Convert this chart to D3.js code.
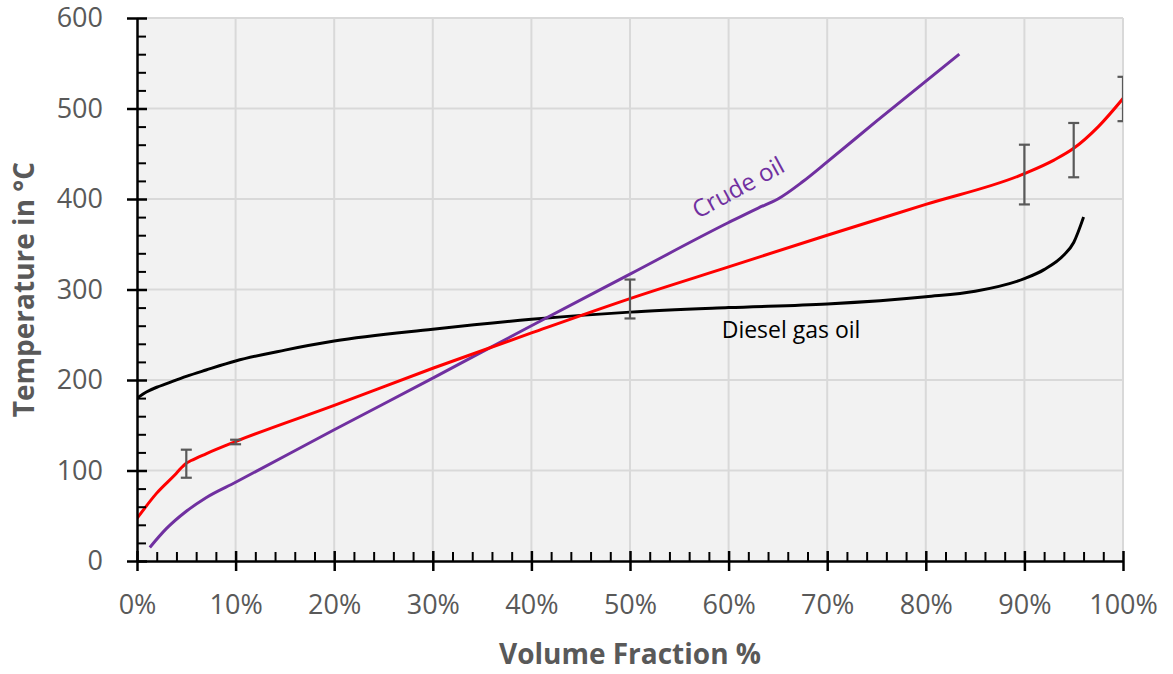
<!DOCTYPE html>
<html>
<head>
<meta charset="utf-8">
<script src="https://cdn.jsdelivr.net/npm/d3@7"></script>
<style>
  body { margin: 0; background: #ffffff; }
  text { font-family: "Open Sans", "Liberation Sans", sans-serif; }
</style>
</head>
<body>
<script>
// volume fraction (%) and temperature (°C) for each curve
var crudePct  = [1.3, 3, 5, 7, 10, 20, 30, 40, 50, 60, 63, 65, 67.5, 70, 75, 83.4];
var crudeTemp = [15, 36, 55, 70, 87, 145, 202, 260, 317, 374, 390, 400, 419, 441, 486, 560];

var dieselPct  = [0, 1, 2, 3, 5, 7, 10, 15, 20, 30, 40, 50, 60, 70, 80, 85, 90, 92, 94, 95, 96];
var dieselTemp = [180, 187, 192, 196, 204, 211, 221, 233, 243, 256, 267, 275, 280, 284, 292, 298, 312, 322, 338, 352, 380];

var redPct  = [0, 2, 4, 4.5, 5, 5.5, 7, 10, 20, 30, 40, 50, 60, 70, 80, 90, 93, 95, 97.5, 100];
var redTemp = [47, 75, 97, 103, 108, 111, 118.5, 132, 172, 213, 252, 290, 325, 360, 394, 428, 443, 456, 480, 511];

// error bars on the red curve
var errPct = [5, 10, 50, 90, 95, 100];
var errLo  = [92, 129, 268, 394, 424, 486];
var errHi  = [123, 134, 311, 460, 484, 535];

var xTicks = [0, 10, 20, 30, 40, 50, 60, 70, 80, 90, 100];
var yTicks = [0, 100, 200, 300, 400, 500, 600];

var width = 1173, height = 674;
var plotLeft = 137, plotRight = 1123, plotTop = 18, plotBottom = 561;
var grey = "#595959";

var x = d3.scaleLinear().domain([0, 100]).range([plotLeft, plotRight]);
var y = d3.scaleLinear().domain([0, 600]).range([plotBottom, plotTop]);

var svg = d3.select("body").append("svg")
  .attr("width", width)
  .attr("height", height);

// plot background
svg.append("rect")
  .attr("x", plotLeft).attr("y", plotTop)
  .attr("width", plotRight - plotLeft).attr("height", plotBottom - plotTop)
  .attr("fill", "#f2f2f2");

svg.append("clipPath").attr("id", "plotclip")
  .append("rect")
  .attr("x", plotLeft).attr("y", plotTop - 2)
  .attr("width", plotRight - plotLeft).attr("height", plotBottom - plotTop + 4);

// gridlines
svg.append("g").selectAll("line")
  .data(xTicks.slice(1))
  .enter().append("line")
  .attr("x1", function(d) { return x(d); })
  .attr("x2", function(d) { return x(d); })
  .attr("y1", plotTop).attr("y2", plotBottom)
  .attr("stroke", "#d9d9d9").attr("stroke-width", 2);

svg.append("g").selectAll("line")
  .data(yTicks.slice(1))
  .enter().append("line")
  .attr("x1", plotLeft).attr("x2", plotRight)
  .attr("y1", function(d) { return y(d); })
  .attr("y2", function(d) { return y(d); })
  .attr("stroke", "#d9d9d9").attr("stroke-width", 2);

// curves
var line = d3.line()
  .x(function(d) { return x(d[0]); })
  .y(function(d) { return y(d[1]); })
  .curve(d3.curveMonotoneX);

var plot = svg.append("g").attr("clip-path", "url(#plotclip)");

plot.append("path")
  .attr("d", line(d3.zip(dieselPct, dieselTemp)))
  .attr("fill", "none").attr("stroke", "#000000").attr("stroke-width", 3);

plot.append("path")
  .attr("d", line(d3.zip(crudePct, crudeTemp)))
  .attr("fill", "none").attr("stroke", "#7030a0").attr("stroke-width", 3);

plot.append("path")
  .attr("d", line(d3.zip(redPct, redTemp)))
  .attr("fill", "none").attr("stroke", "#ff0000").attr("stroke-width", 3);

// error bars
var cap = 5.5;
var eb = plot.append("g")
  .attr("stroke", grey).attr("stroke-width", 2.2).attr("fill", "none");
for (var i = 0; i < errPct.length; i++) {
  var ex = x(errPct[i]);
  eb.append("line").attr("x1", ex).attr("x2", ex).attr("y1", y(errLo[i])).attr("y2", y(errHi[i]));
  eb.append("line").attr("x1", ex - cap).attr("x2", ex + cap).attr("y1", y(errLo[i])).attr("y2", y(errLo[i]));
  eb.append("line").attr("x1", ex - cap).attr("x2", ex + cap).attr("y1", y(errHi[i])).attr("y2", y(errHi[i]));
}

// minor ticks (inside)
var xMinor = d3.range(2, 100, 2).filter(function(d) { return d % 10 != 0; });
var yMinor = d3.range(20, 600, 20).filter(function(d) { return d % 100 != 0; });

svg.append("g")
  .attr("transform", "translate(0," + plotBottom + ")")
  .call(d3.axisBottom(x).tickValues(xMinor).tickSize(-9).tickFormat(""))
  .call(function(g) { g.select(".domain").remove(); })
  .selectAll("line").attr("stroke", "#000").attr("stroke-width", 2);

svg.append("g")
  .attr("transform", "translate(" + plotLeft + ",0)")
  .call(d3.axisLeft(y).tickValues(yMinor).tickSize(-9).tickFormat(""))
  .call(function(g) { g.select(".domain").remove(); })
  .selectAll("line").attr("stroke", "#000").attr("stroke-width", 2);

// main axes, major ticks cross the axis line
var xAxis = svg.append("g")
  .attr("transform", "translate(0," + plotBottom + ")")
  .call(d3.axisBottom(x).tickValues(xTicks).tickSize(10).tickSizeOuter(0).tickPadding(24)
    .tickFormat(function(d) { return d + "%"; }));
xAxis.select(".domain").attr("stroke", "#000").attr("stroke-width", 2.5);
xAxis.selectAll(".tick line").attr("y1", -10).attr("stroke", "#000").attr("stroke-width", 2.5);
xAxis.selectAll(".tick text")
  .attr("fill", grey).attr("font-size", 27)
  .style("font-family", "'Open Sans', sans-serif");

var yAxis = svg.append("g")
  .attr("transform", "translate(" + plotLeft + ",0)")
  .call(d3.axisLeft(y).tickValues(yTicks).tickSize(10).tickSizeOuter(0).tickPadding(24));
yAxis.select(".domain").attr("stroke", "#000").attr("stroke-width", 2.5);
yAxis.selectAll(".tick line").attr("x1", 10).attr("stroke", "#000").attr("stroke-width", 2.5);
yAxis.selectAll(".tick text")
  .attr("fill", grey).attr("font-size", 27)
  .style("font-family", "'Open Sans', sans-serif");

// axis titles
svg.append("text")
  .attr("x", (plotLeft + plotRight) / 2)
  .attr("y", 664)
  .attr("text-anchor", "middle")
  .attr("font-size", 28).attr("font-weight", "bold")
  .attr("fill", grey)
  .text("Volume Fraction %");

svg.append("text")
  .attr("transform", "translate(34," + ((plotTop + plotBottom) / 2) + ")rotate(-90)")
  .attr("text-anchor", "middle")
  .attr("font-size", 28).attr("font-weight", "bold")
  .attr("fill", grey)
  .text("Temperature in °C");

// curve labels
svg.append("text")
  .attr("transform", "translate(" + x(56.9) + "," + y(378) + ")rotate(-28.5)")
  .attr("font-size", 24)
  .attr("fill", "#7030a0")
  .text("Crude oil");

svg.append("text")
  .attr("x", x(59.3))
  .attr("y", y(246))
  .attr("font-size", 23)
  .attr("fill", "#000")
  .text("Diesel gas oil");
</script>
</body>
</html>
